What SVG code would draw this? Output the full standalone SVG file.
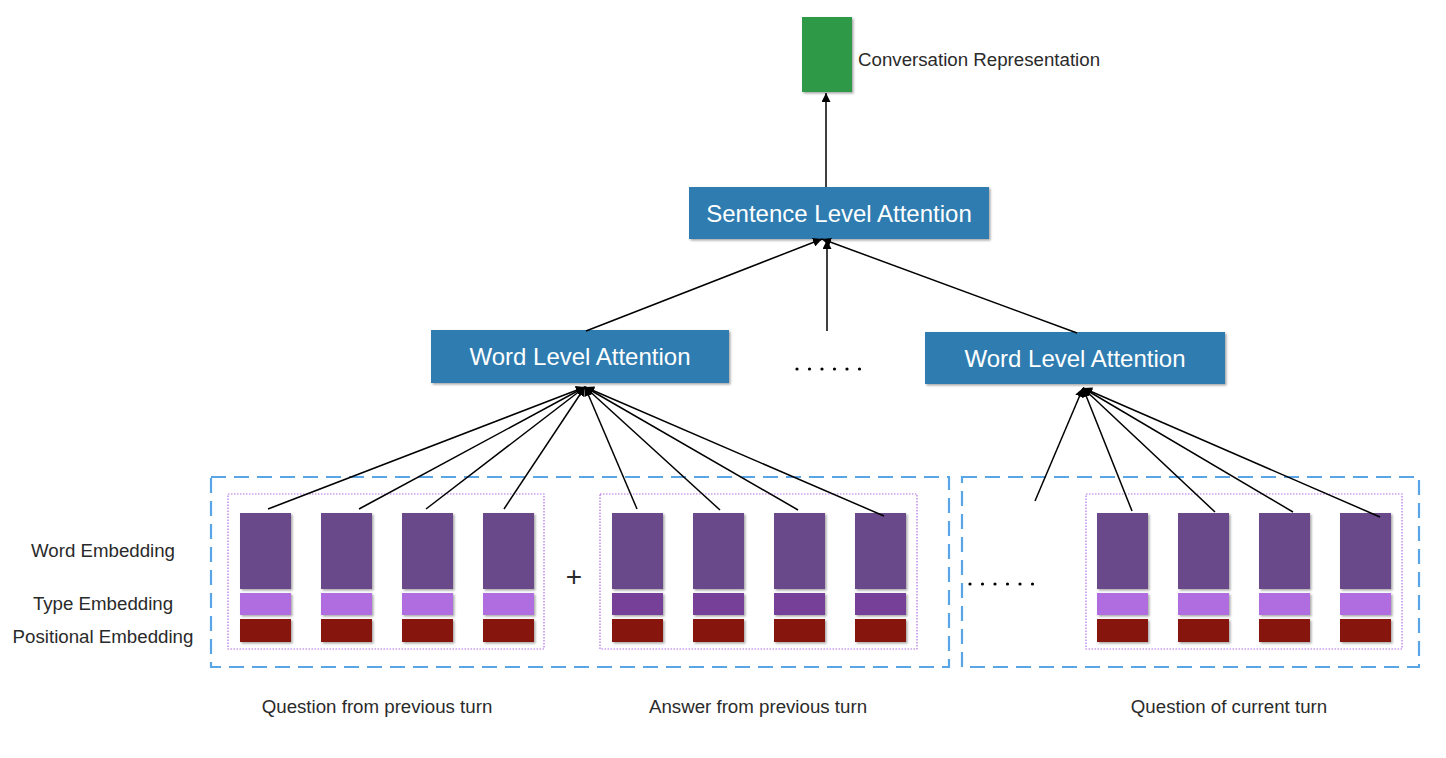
<svg xmlns="http://www.w3.org/2000/svg" width="1446" height="758" viewBox="0 0 1446 758">
<defs>
<style>
.txt{font-family:"Liberation Sans",Arial,sans-serif;fill:#2a2a2a;font-size:18.7px}
.btxt{font-family:"Liberation Sans",Arial,sans-serif;fill:#fff;font-size:24px;text-anchor:middle}
.att{fill:#2e7cb0}
.we{fill:#6a4a8b}
.te{fill:#b06de0}
.te2{fill:#773f98}
.pe{fill:#861411}
.outer{fill:none;stroke:#5aa5e6;stroke-width:2.2;stroke-dasharray:15 8}
.inner{fill:none;stroke:#b36ee6;stroke-width:1.2;stroke-dasharray:1.5 1.5}
.conn{stroke:#000;stroke-width:1.5;fill:none}
.dot{fill:#000}
</style>
<filter id="sh" x="-10%" y="-10%" width="130%" height="130%">
<feDropShadow dx="1.5" dy="1.5" stdDeviation="1" flood-color="#000" flood-opacity="0.35"/>
</filter>
<marker id="ah" viewBox="0 0 10 10" refX="10" refY="5" markerWidth="9" markerHeight="9" markerUnits="userSpaceOnUse" orient="auto">
<path d="M0,0 L10,5 L0,10 z" fill="#000"/>
</marker>
</defs>
<rect width="1446" height="758" fill="#fff"/>

<g id="conversation-representation">
<rect x="802" y="17" width="50" height="75" fill="#2e9a46" filter="url(#sh)"/>
<text class="txt" x="858" y="66">Conversation Representation</text>
</g>

<g id="sentence-level-attention">
<rect class="att" x="689" y="187" width="300" height="52" filter="url(#sh)"/>
<text class="btxt" x="839" y="222">Sentence Level Attention</text>
</g>

<g id="word-level-attention-1">
<rect class="att" x="431" y="330" width="298" height="53" filter="url(#sh)"/>
<text class="btxt" x="580" y="365">Word Level Attention</text>
</g>

<g id="word-level-attention-2">
<rect class="att" x="925" y="332" width="300" height="52" filter="url(#sh)"/>
<text class="btxt" x="1075" y="367">Word Level Attention</text>
</g>

<g id="middle-dots">
<circle class="dot" cx="797" cy="369" r="1.6"/><circle class="dot" cx="809.5" cy="369" r="1.6"/><circle class="dot" cx="822" cy="369" r="1.6"/><circle class="dot" cx="834.5" cy="369" r="1.6"/><circle class="dot" cx="847" cy="369" r="1.6"/><circle class="dot" cx="859.5" cy="369" r="1.6"/>
</g>

<g id="previous-turn-group">
<rect class="outer" x="211" y="477" width="738" height="190"/>
</g>

<g id="current-turn-group">
<rect class="outer" x="962" y="477" width="457" height="190"/>
<circle class="dot" cx="970" cy="584" r="1.6"/><circle class="dot" cx="982.5" cy="584" r="1.6"/><circle class="dot" cx="995" cy="584" r="1.6"/><circle class="dot" cx="1007.5" cy="584" r="1.6"/><circle class="dot" cx="1020" cy="584" r="1.6"/><circle class="dot" cx="1032.5" cy="584" r="1.6"/>
</g>

<g id="question-previous">
<rect class="inner" x="228" y="494" width="316" height="155"/>
<g filter="url(#sh)">
<rect class="we" x="240" y="513" width="51" height="76"/><rect class="te" x="240" y="593" width="51" height="22"/><rect class="pe" x="240" y="619" width="51" height="23"/>
<rect class="we" x="321" y="513" width="51" height="76"/><rect class="te" x="321" y="593" width="51" height="22"/><rect class="pe" x="321" y="619" width="51" height="23"/>
<rect class="we" x="402" y="513" width="51" height="76"/><rect class="te" x="402" y="593" width="51" height="22"/><rect class="pe" x="402" y="619" width="51" height="23"/>
<rect class="we" x="483" y="513" width="51" height="76"/><rect class="te" x="483" y="593" width="51" height="22"/><rect class="pe" x="483" y="619" width="51" height="23"/>
</g>
<text class="txt" x="377" y="713" text-anchor="middle">Question from previous turn</text>
</g>

<g id="plus">
<text class="txt" x="574" y="586" text-anchor="middle" style="font-size:28px">+</text>
</g>

<g id="answer-previous">
<rect class="inner" x="600" y="494" width="317" height="155"/>
<g filter="url(#sh)">
<rect class="we" x="612" y="513" width="51" height="76"/><rect class="te2" x="612" y="593" width="51" height="22"/><rect class="pe" x="612" y="619" width="51" height="23"/>
<rect class="we" x="693" y="513" width="51" height="76"/><rect class="te2" x="693" y="593" width="51" height="22"/><rect class="pe" x="693" y="619" width="51" height="23"/>
<rect class="we" x="774" y="513" width="51" height="76"/><rect class="te2" x="774" y="593" width="51" height="22"/><rect class="pe" x="774" y="619" width="51" height="23"/>
<rect class="we" x="855" y="513" width="51" height="76"/><rect class="te2" x="855" y="593" width="51" height="22"/><rect class="pe" x="855" y="619" width="51" height="23"/>
</g>
<text class="txt" x="758" y="713" text-anchor="middle">Answer from previous turn</text>
</g>

<g id="question-current">
<rect class="inner" x="1086" y="494" width="316" height="155"/>
<g filter="url(#sh)">
<rect class="we" x="1097" y="513" width="51" height="76"/><rect class="te" x="1097" y="593" width="51" height="22"/><rect class="pe" x="1097" y="619" width="51" height="23"/>
<rect class="we" x="1178" y="513" width="51" height="76"/><rect class="te" x="1178" y="593" width="51" height="22"/><rect class="pe" x="1178" y="619" width="51" height="23"/>
<rect class="we" x="1259" y="513" width="51" height="76"/><rect class="te" x="1259" y="593" width="51" height="22"/><rect class="pe" x="1259" y="619" width="51" height="23"/>
<rect class="we" x="1340" y="513" width="51" height="76"/><rect class="te" x="1340" y="593" width="51" height="22"/><rect class="pe" x="1340" y="619" width="51" height="23"/>
</g>
<text class="txt" x="1229" y="713" text-anchor="middle">Question of current turn</text>
</g>

<g id="row-labels">
<text class="txt" x="103" y="557" text-anchor="middle">Word Embedding</text>
<text class="txt" x="103" y="610" text-anchor="middle">Type Embedding</text>
<text class="txt" x="103" y="643" text-anchor="middle">Positional Embedding</text>
</g>

<g id="connectors">
<line class="conn" x1="826" y1="187" x2="826" y2="93" marker-end="url(#ah)"/>
<line class="conn" x1="586" y1="331" x2="822" y2="239" marker-end="url(#ah)"/>
<line class="conn" x1="827" y1="331" x2="827" y2="240" marker-end="url(#ah)"/>
<line class="conn" x1="1077" y1="333" x2="822" y2="239" marker-end="url(#ah)"/>
<line class="conn" x1="268" y1="509" x2="585" y2="387" marker-end="url(#ah)"/>
<line class="conn" x1="359" y1="509" x2="585" y2="387" marker-end="url(#ah)"/>
<line class="conn" x1="426" y1="509" x2="585" y2="387" marker-end="url(#ah)"/>
<line class="conn" x1="504" y1="509" x2="585" y2="387" marker-end="url(#ah)"/>
<line class="conn" x1="637" y1="509" x2="585" y2="387" marker-end="url(#ah)"/>
<line class="conn" x1="720" y1="510" x2="585" y2="387" marker-end="url(#ah)"/>
<line class="conn" x1="798" y1="510" x2="585" y2="387" marker-end="url(#ah)"/>
<line class="conn" x1="884" y1="516" x2="585" y2="387" marker-end="url(#ah)"/>
<line class="conn" x1="1035" y1="501" x2="1083" y2="388" marker-end="url(#ah)"/>
<line class="conn" x1="1132" y1="511" x2="1083" y2="388" marker-end="url(#ah)"/>
<line class="conn" x1="1215" y1="512" x2="1083" y2="388" marker-end="url(#ah)"/>
<line class="conn" x1="1293" y1="512" x2="1083" y2="388" marker-end="url(#ah)"/>
<line class="conn" x1="1380" y1="517" x2="1083" y2="388" marker-end="url(#ah)"/>
</g>
</svg>
